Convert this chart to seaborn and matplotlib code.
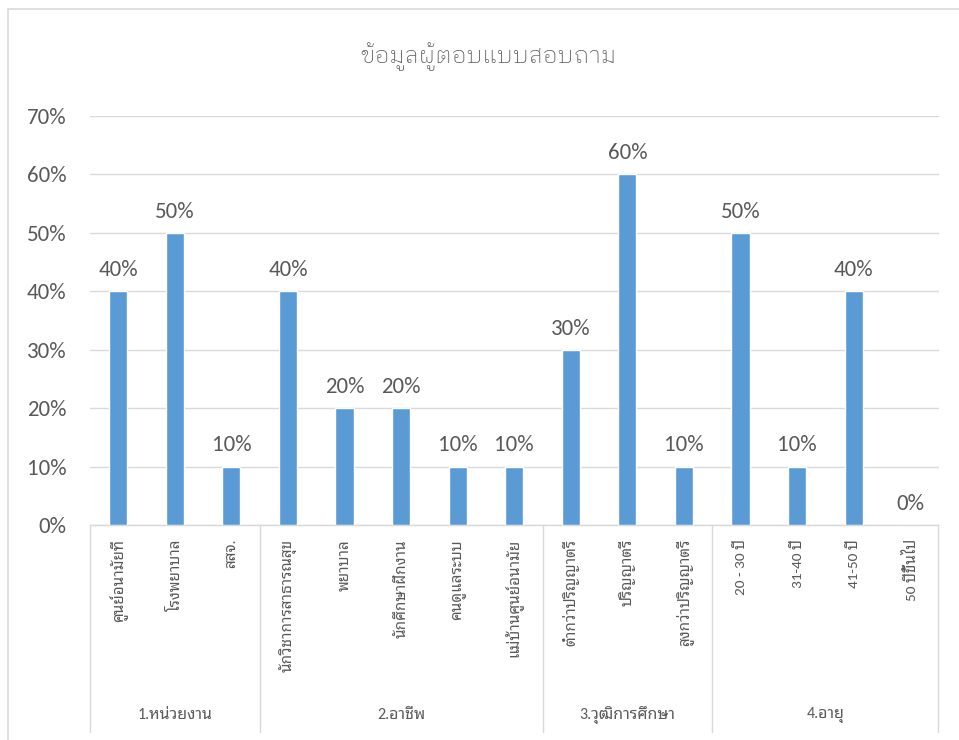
import matplotlib
matplotlib.use("Agg")
import matplotlib.pyplot as plt
from matplotlib.patches import Rectangle
from matplotlib.ticker import PercentFormatter, MultipleLocator
import matplotlib.transforms as mtransforms
import pandas as pd
import seaborn as sns

# Survey respondent breakdown, grouped by question
groups = ["1.หน่วยงาน", "2.อาชีพ", "3.วุฒิการศึกษา", "4.อายุ"]
group_items = [
    ["ศูนย์อนามัยที่", "โรงพยาบาล", "สสจ."],
    ["นักวิชาการสาธารณสุข", "พยาบาล", "นักศึกษาฝึกงาน", "คนดูแลระบบ", "แม่บ้านศูนย์อนามัย"],
    ["ต่ำกว่าปริญญาตรี", "ปริญญาตรี", "สูงกว่าปริญญาตรี"],
    ["20 - 30 ปี", "31-40 ปี", "41-50 ปี", "50 ปีขึ้นไป"],
]
shares = [0.40, 0.50, 0.10,
          0.40, 0.20, 0.20, 0.10, 0.10,
          0.30, 0.60, 0.10,
          0.50, 0.10, 0.40, 0.00]
title = "ข้อมูลผู้ตอบแบบสอบถาม"

categories = [c for items in group_items for c in items]
df = pd.DataFrame({"category": categories, "share": shares})

sns.set_theme(style="white")
FONT = ["Carlito", "Noto Sans Thai Looped", "DejaVu Sans"]
THIN = ["Carlito", "IBM Plex Sans Thai Looped", "Noto Sans Thai Looped", "DejaVu Sans"]
plt.rcParams["font.family"] = FONT
TEXT = "#595959"
GRID = "#D9D9D9"
BAR = "#5B9BD5"

W, H = 959, 740
fig = plt.figure(figsize=(W / 100, H / 100), dpi=100)
ax = fig.add_axes([90 / W, 1 - 525 / H, (938.5 - 90) / W, (525 - 116) / H])

sns.barplot(data=df, x="category", y="share", color=BAR, width=0.32,
            saturation=1, ax=ax, zorder=3)

ax.set_ylim(0, 0.70)
ax.set_xlim(-0.5, len(categories) - 0.5)
ax.yaxis.set_major_locator(MultipleLocator(0.10))
ax.yaxis.set_major_formatter(PercentFormatter(1.0, decimals=0))
ax.grid(axis="y", color=GRID, linewidth=1.0, zorder=0)
ax.set_axisbelow(True)
for side in ("top", "right", "left"):
    ax.spines[side].set_visible(False)
ax.spines["bottom"].set_color(GRID)
ax.spines["bottom"].set_linewidth(1.0)
ax.set_xlabel("")
ax.set_ylabel("")

ax.tick_params(axis="y", length=0, pad=17, labelsize=16.5, labelcolor=TEXT)
ax.tick_params(axis="x", length=0, pad=10, labelcolor=TEXT)
ax.set_xticks(range(len(categories)))
ax.set_xticklabels(categories, rotation=90, va="top", ha="center",
                   fontsize=11, color=TEXT)

# value labels on top of each bar
for cont in ax.containers:
    ax.bar_label(cont, labels=[f"{v:.0%}" for v in shares], padding=8,
                 fontsize=16.5, color=TEXT)

# grouped category axis: separators and group names
trans = mtransforms.blended_transform_factory(ax.transData, ax.transAxes)
y_low = -(732 - 525) / (525 - 116)
bounds = [0]
for items in group_items:
    bounds.append(bounds[-1] + len(items))
for b in bounds:
    ax.plot([b - 0.5, b - 0.5], [0, y_low], transform=trans, color=GRID,
            linewidth=1.0, clip_on=False)
y_grp = -(715 - 525) / (525 - 116)
for g, lo, hi in zip(groups, bounds[:-1], bounds[1:]):
    ax.text((lo + hi - 1) / 2, y_grp, g, transform=trans, ha="center",
            va="center", fontsize=11.5, color=TEXT)

fig.text(488 / W, 1 - 57 / H, title, ha="center", va="center",
         fontsize=17, color=TEXT, family=THIN, fontweight="light")

# chart frame
fig.patches.append(Rectangle((8 / W, -0.1), 1.5, 1.1 - 9 / H,
                             transform=fig.transFigure, fill=False,
                             edgecolor=GRID, linewidth=1.2))

fig.savefig("out.png", dpi=100)
